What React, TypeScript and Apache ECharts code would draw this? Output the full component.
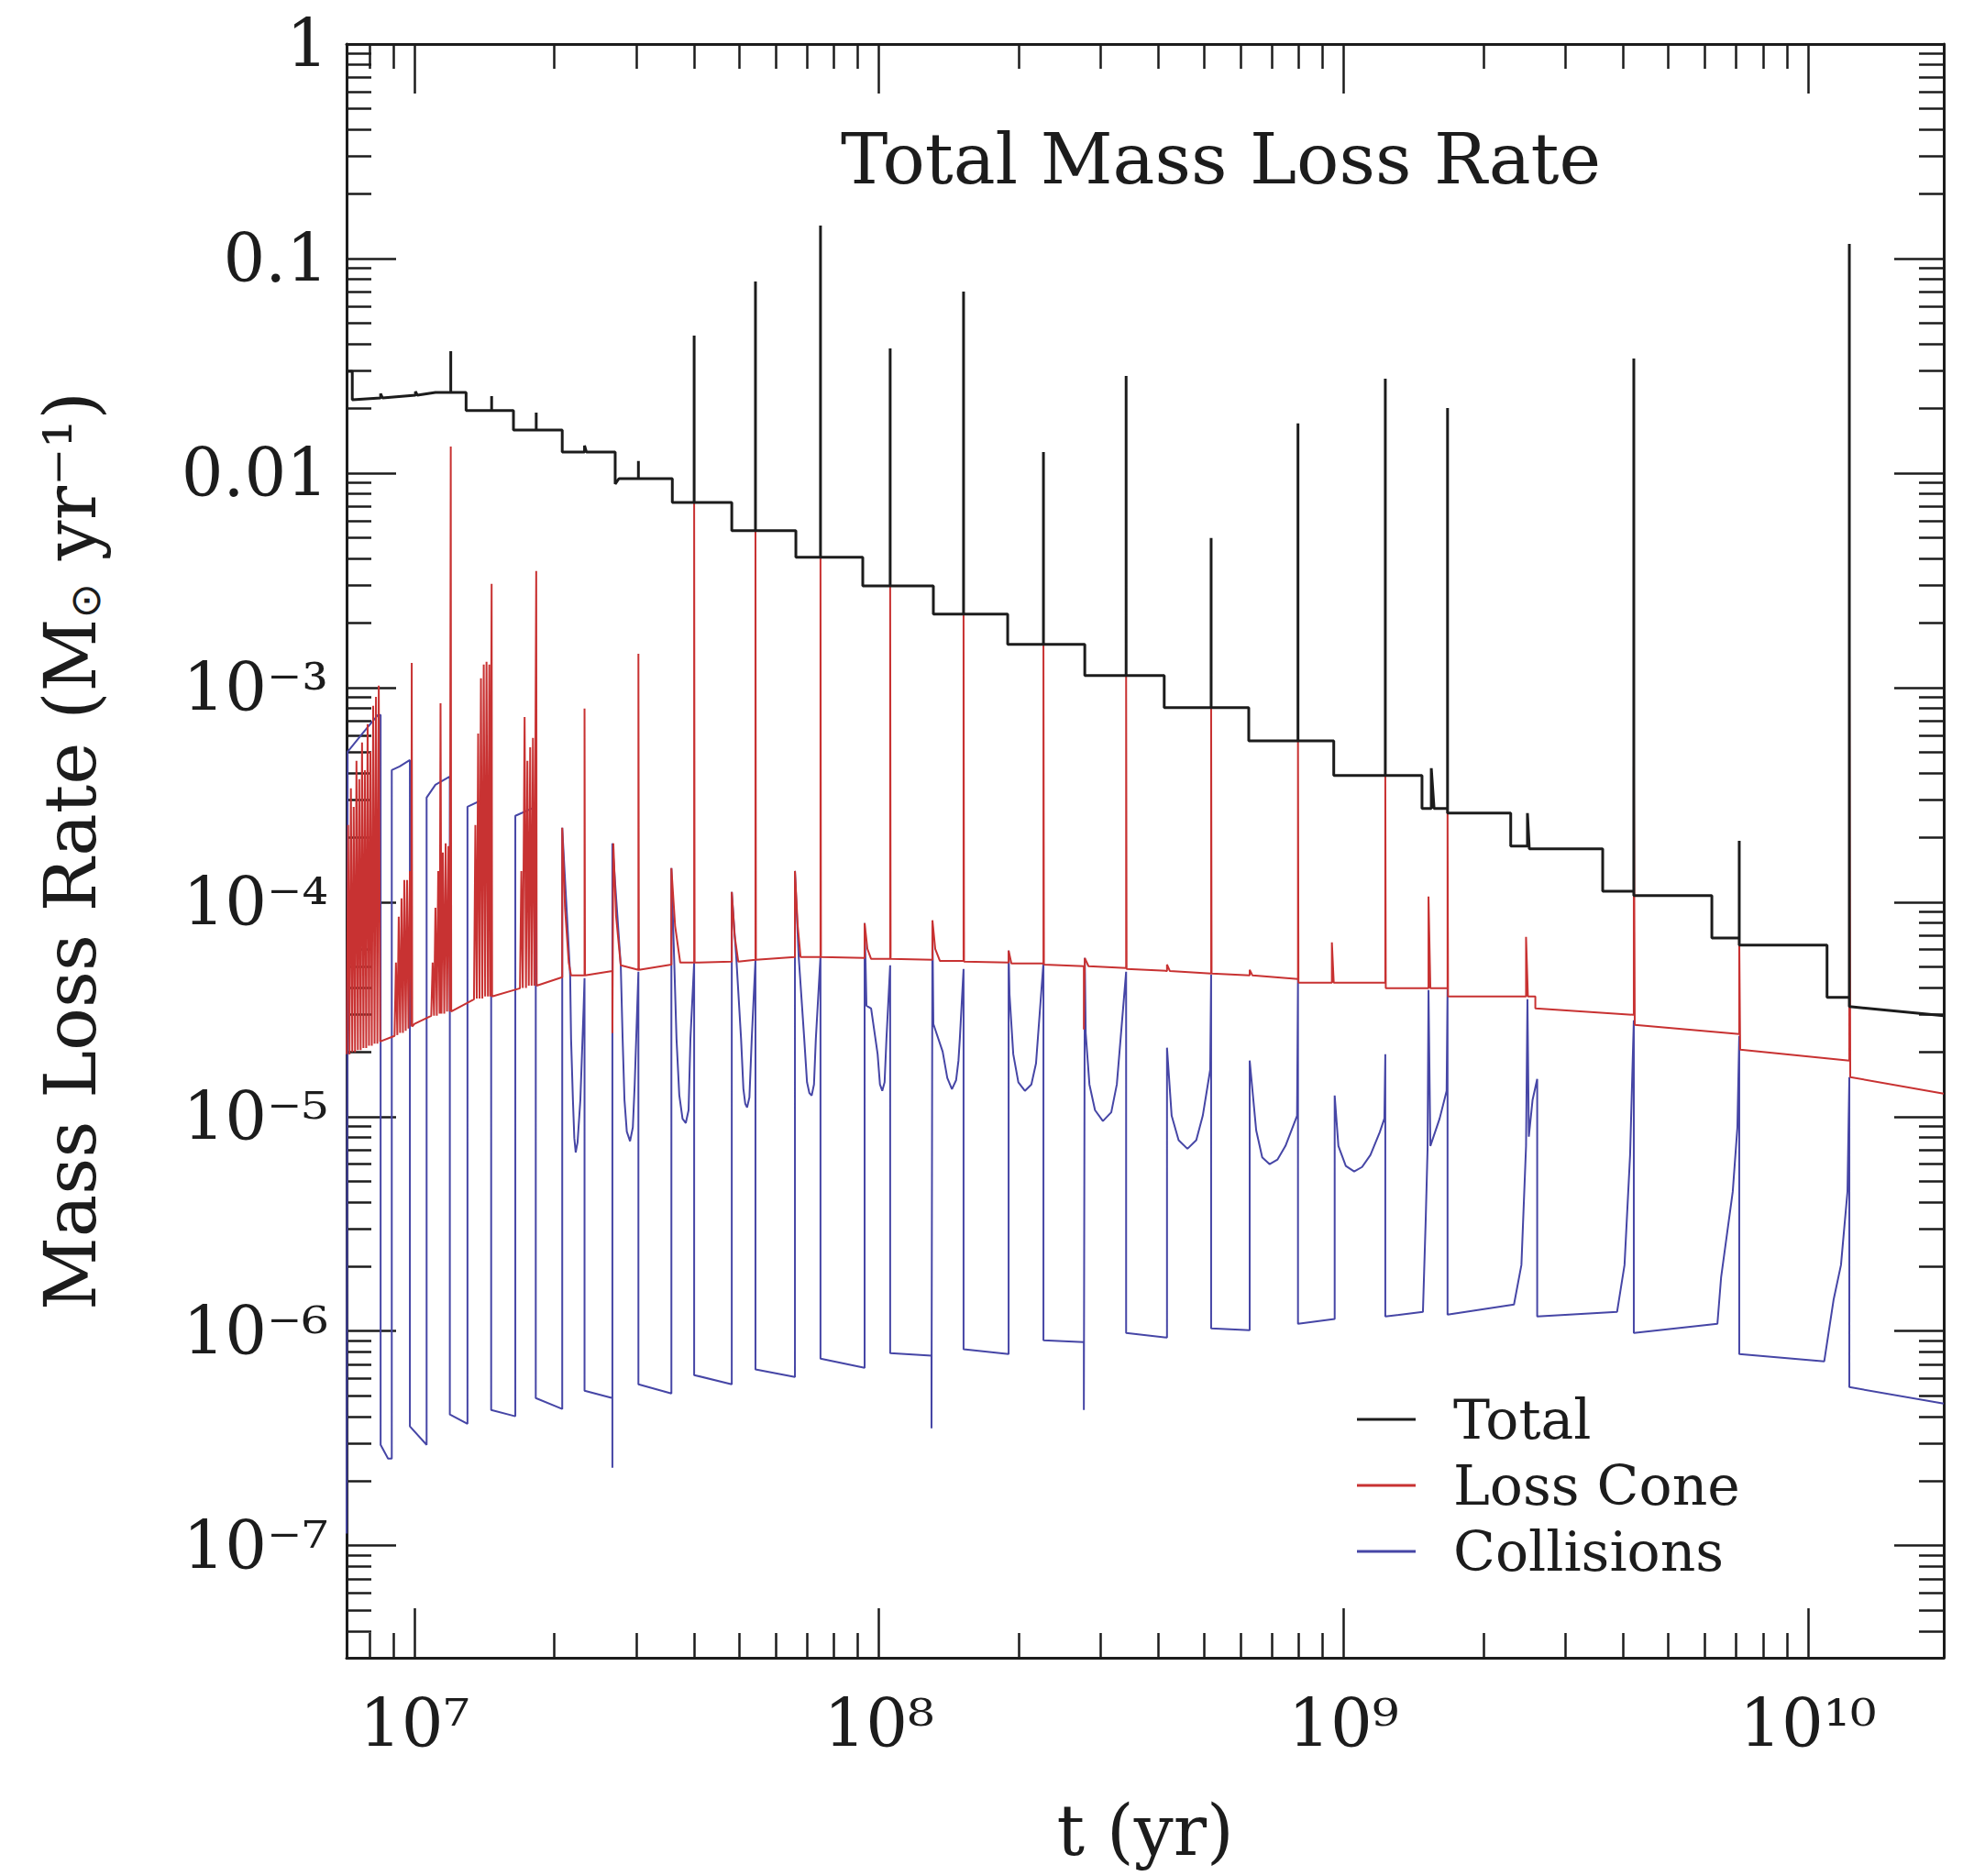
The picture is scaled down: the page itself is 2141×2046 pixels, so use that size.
import React, { useEffect, useRef } from 'react';
import * as echarts from 'echarts';

// All readings are in log10 units: [log10(t / yr), log10(rate / (Msun/yr))]
const totalLog: number[][] = [
  [6.854,-1.526],[6.866,-1.526],[6.866,-1.658],[6.927,-1.650],[6.927,-1.630],[6.931,-1.650],[7.002,-1.637],[7.002,-1.620],[7.006,-1.637],
  [7.045,-1.624],[7.078,-1.624],[7.078,-1.432],[7.078,-1.624],[7.111,-1.624],[7.111,-1.709],[7.166,-1.709],[7.166,-1.641],[7.166,-1.709],
  [7.213,-1.709],[7.213,-1.799],[7.262,-1.799],[7.262,-1.718],[7.262,-1.799],[7.318,-1.799],[7.318,-1.902],[7.366,-1.902],[7.366,-1.872],
  [7.370,-1.902],[7.432,-1.902],[7.432,-2.051],[7.440,-2.026],[7.482,-2.026],[7.482,-1.944],[7.482,-2.026],[7.555,-2.026],[7.555,-2.137],
  [7.602,-2.137],[7.602,-1.359],[7.602,-2.137],[7.683,-2.137],[7.683,-2.269],[7.734,-2.269],[7.734,-1.107],[7.734,-2.269],[7.821,-2.269],
  [7.821,-2.393],[7.874,-2.393],[7.874,-0.846],[7.874,-2.393],[7.965,-2.393],[7.965,-2.526],[8.024,-2.526],[8.024,-1.419],[8.024,-2.526],
  [8.117,-2.526],[8.117,-2.658],[8.182,-2.658],[8.182,-1.154],[8.182,-2.658],[8.277,-2.658],[8.277,-2.799],[8.354,-2.799],[8.354,-1.902],
  [8.354,-2.799],[8.443,-2.799],[8.443,-2.944],[8.532,-2.944],[8.532,-1.547],[8.532,-2.944],[8.614,-2.944],[8.614,-3.094],[8.715,-3.094],
  [8.715,-2.303],[8.715,-3.094],[8.796,-3.094],[8.796,-3.248],[8.902,-3.248],[8.902,-1.769],[8.902,-3.248],[8.979,-3.248],[8.979,-3.410],
  [9.090,-3.410],[9.090,-1.560],[9.090,-3.410],[9.169,-3.410],[9.169,-3.564],[9.189,-3.564],[9.189,-3.376],[9.195,-3.564],[9.224,-3.564],
  [9.224,-1.697],[9.224,-3.585],[9.360,-3.585],[9.360,-3.739],[9.396,-3.739],[9.396,-3.585],[9.400,-3.752],[9.558,-3.752],[9.558,-3.949],
  [9.625,-3.949],[9.625,-1.466],[9.625,-3.970],[9.793,-3.970],[9.793,-4.167],[9.852,-4.167],[9.852,-3.714],[9.852,-4.201],[10.041,-4.201],
  [10.041,-4.444],[10.089,-4.444],[10.089,-0.932],[10.089,-4.487],[10.292,-4.530],
];

const lossConeLog: number[][] = [
  [6.854,-4.709],
  [6.857,-3.641],[6.860,-4.71],[6.863,-3.470],[6.866,-4.70],[6.869,-3.556],[6.872,-4.70],[6.875,-3.342],[6.878,-4.69],
  [6.881,-3.427],[6.884,-4.69],[6.887,-3.256],[6.890,-4.68],[6.893,-3.385],[6.896,-4.68],[6.899,-3.171],[6.902,-4.67],
  [6.905,-3.299],[6.908,-4.67],[6.911,-3.085],[6.914,-4.66],[6.917,-3.043],[6.920,-4.66],[6.923,-2.991],[6.926,-4.65],
  [6.957,-4.624],
  [6.960,-4.282],[6.963,-4.62],[6.966,-4.068],[6.969,-4.61],[6.972,-3.983],[6.975,-4.61],[6.978,-3.897],[6.981,-4.60],
  [6.984,-3.897],[6.987,-4.59],[6.990,-3.855],[6.993,-4.58],[6.994,-2.885],[6.995,-4.58],
  [7.000,-4.568],[7.036,-4.53],
  [7.039,-4.282],[7.042,-4.53],[7.045,-4.026],[7.048,-4.53],[7.051,-3.855],[7.054,-4.52],[7.056,-3.073],[7.058,-4.52],
  [7.061,-3.769],[7.064,-4.52],[7.067,-3.726],[7.070,-4.51],[7.073,-3.739],[7.076,-4.51],[7.078,-1.876],[7.079,-4.51],
  [7.128,-4.453],
  [7.131,-3.641],[7.134,-4.45],[7.137,-3.214],[7.140,-4.45],[7.143,-2.957],[7.146,-4.45],[7.149,-2.893],[7.152,-4.44],
  [7.155,-2.880],[7.158,-4.44],[7.161,-2.893],[7.163,-4.44],[7.166,-2.517],[7.167,-4.44],
  [7.227,-4.402],
  [7.230,-3.855],[7.233,-4.40],[7.237,-3.137],[7.240,-4.40],[7.243,-3.342],[7.246,-4.39],[7.249,-3.278],[7.252,-4.39],
  [7.255,-3.235],[7.258,-4.39],[7.262,-2.457],[7.263,-4.39],
  [7.318,-4.350],[7.318,-3.654],[7.324,-4.026],[7.332,-4.282],[7.337,-4.342],
  [7.366,-4.342],[7.366,-3.098],[7.367,-4.342],
  [7.426,-4.321],[7.426,-4.611],[7.428,-3.726],[7.434,-4.068],[7.444,-4.295],
  [7.482,-4.316],[7.482,-2.842],[7.483,-4.316],
  [7.553,-4.291],[7.553,-3.842],[7.561,-4.111],[7.572,-4.282],
  [7.602,-4.282],[7.602,-2.137],[7.603,-4.282],
  [7.683,-4.278],[7.683,-3.953],[7.689,-4.154],[7.697,-4.278],
  [7.734,-4.269],[7.734,-2.269],[7.735,-4.269],
  [7.819,-4.256],[7.819,-3.855],[7.825,-4.111],[7.831,-4.256],
  [7.874,-4.256],[7.874,-2.393],[7.875,-4.256],
  [7.969,-4.261],[7.969,-4.098],[7.975,-4.218],[7.983,-4.265],
  [8.024,-4.265],[8.024,-2.526],[8.025,-4.265],
  [8.115,-4.269],[8.115,-4.085],[8.121,-4.218],[8.131,-4.274],
  [8.182,-4.274],[8.182,-2.658],[8.183,-4.278],
  [8.279,-4.282],[8.279,-4.226],[8.285,-4.286],
  [8.354,-4.286],[8.354,-2.799],[8.355,-4.291],
  [8.441,-4.299],[8.441,-4.594],[8.443,-4.261],[8.451,-4.299],
  [8.532,-4.308],[8.532,-2.944],[8.533,-4.312],
  [8.620,-4.321],[8.620,-4.291],[8.626,-4.321],
  [8.715,-4.333],[8.715,-3.094],[8.716,-4.333],
  [8.798,-4.342],[8.798,-4.316],[8.804,-4.342],
  [8.902,-4.359],[8.902,-3.248],[8.903,-4.376],
  [8.975,-4.376],[8.975,-4.188],[8.979,-4.376],
  [9.090,-4.376],[9.090,-3.410],[9.091,-4.402],
  [9.183,-4.402],[9.183,-3.974],[9.187,-4.402],
  [9.224,-4.402],[9.224,-3.564],[9.225,-4.440],
  [9.393,-4.440],[9.393,-4.162],[9.397,-4.440],[9.413,-4.440],[9.413,-4.496],
  [9.625,-4.526],[9.625,-3.368],[9.627,-4.573],
  [9.852,-4.615],[9.852,-4.167],[9.854,-4.688],
  [10.089,-4.739],[10.089,-2.855],[10.091,-4.816],[10.292,-4.893],
];

const collisionsLog: number[][] = [
  [6.854,-6.944],[6.856,-3.299],[6.888,-3.214],[6.921,-3.128],[6.927,-3.128],[6.927,-6.530],[6.943,-6.594],[6.951,-6.594],
  [6.951,-3.385],[6.968,-3.368],[6.990,-3.338],[6.990,-6.444],[7.026,-6.530],
  [7.026,-3.513],[7.045,-3.453],[7.076,-3.415],[7.076,-6.389],[7.114,-6.432],
  [7.114,-3.556],[7.165,-3.504],[7.165,-6.368],[7.217,-6.397],
  [7.217,-3.598],[7.261,-3.556],[7.261,-6.312],[7.318,-6.363],
  [7.318,-3.654],[7.335,-4.338],[7.337,-4.637],[7.341,-4.923],[7.344,-5.100],[7.347,-5.167],[7.351,-5.120],[7.357,-4.923],[7.364,-4.496],[7.366,-4.355],[7.366,-6.278],
  [7.426,-6.312],[7.426,-6.637],
  [7.426,-3.726],[7.444,-4.295],[7.448,-4.637],[7.452,-4.923],[7.457,-5.070],[7.464,-5.115],[7.470,-5.050],[7.474,-4.850],[7.482,-4.325],[7.482,-6.248],
  [7.553,-6.291],
  [7.553,-3.842],[7.559,-4.269],[7.564,-4.637],[7.570,-4.900],[7.577,-5.010],[7.584,-5.030],[7.590,-4.970],[7.594,-4.637],[7.602,-4.282],[7.602,-6.205],
  [7.683,-6.248],
  [7.683,-3.953],[7.693,-4.269],[7.703,-4.637],[7.708,-4.870],[7.712,-4.940],[7.716,-4.957],[7.721,-4.910],[7.726,-4.637],[7.734,-4.269],[7.734,-6.179],
  [7.819,-6.214],
  [7.819,-3.855],[7.827,-4.252],[7.839,-4.637],[7.845,-4.840],[7.850,-4.890],[7.855,-4.902],[7.860,-4.850],[7.864,-4.637],[7.874,-4.252],[7.874,-6.128],
  [7.969,-6.171],
  [7.969,-4.098],[7.971,-4.282],[7.973,-4.483],[7.983,-4.496],[7.997,-4.709],[8.002,-4.850],[8.007,-4.880],[8.012,-4.840],[8.016,-4.637],[8.024,-4.295],[8.024,-6.103],
  [8.113,-6.115],[8.113,-6.453],
  [8.115,-4.098],[8.117,-4.568],[8.137,-4.697],[8.147,-4.820],[8.157,-4.872],[8.166,-4.830],[8.171,-4.740],[8.174,-4.637],[8.182,-4.312],[8.182,-6.085],
  [8.279,-6.107],
  [8.279,-4.226],[8.281,-4.432],[8.289,-4.709],[8.300,-4.840],[8.314,-4.880],[8.328,-4.850],[8.338,-4.752],[8.354,-4.282],[8.354,-6.043],
  [8.441,-6.051],[8.441,-6.368],
  [8.443,-4.261],[8.445,-4.611],[8.453,-4.850],[8.465,-4.970],[8.482,-5.021],[8.500,-4.980],[8.512,-4.850],[8.532,-4.325],[8.532,-6.009],
  [8.620,-6.030],
  [8.620,-4.679],[8.630,-4.996],[8.645,-5.110],[8.664,-5.150],[8.683,-5.110],[8.697,-4.996],[8.713,-4.782],[8.715,-4.338],[8.715,-5.987],
  [8.798,-5.996],
  [8.798,-4.739],[8.812,-5.064],[8.825,-5.190],[8.841,-5.222],[8.858,-5.200],[8.875,-5.137],[8.900,-4.996],[8.902,-4.359],[8.902,-5.966],
  [8.981,-5.944],
  [8.981,-4.902],[8.989,-5.137],[9.005,-5.230],[9.023,-5.256],[9.040,-5.235],[9.058,-5.179],[9.078,-5.073],[9.088,-5.009],[9.090,-4.709],[9.090,-5.932],
  [9.171,-5.910],
  [9.177,-5.479],[9.181,-5.150],[9.183,-4.410],[9.187,-5.137],[9.207,-5.009],[9.222,-4.880],[9.224,-4.402],[9.224,-5.923],
  [9.367,-5.876],[9.383,-5.692],[9.393,-5.137],[9.396,-4.453],[9.399,-5.094],[9.407,-4.923],[9.417,-4.825],[9.417,-5.932],
  [9.589,-5.910],[9.605,-5.692],[9.617,-5.179],[9.625,-4.551],[9.625,-6.009],
  [9.805,-5.966],[9.813,-5.748],[9.838,-5.350],[9.848,-5.051],[9.852,-4.624],[9.852,-6.107],
  [10.035,-6.141],[10.055,-5.855],[10.071,-5.692],[10.085,-5.350],[10.089,-4.816],[10.089,-6.261],
  [10.292,-6.338],
];

const seriesNames = ['Total', 'Loss Cone', 'Collisions'];
const xTickExps = [7, 8, 9, 10];
const xTickLabels = ['10\u2077', '10\u2078', '10\u2079', '10\u00b9\u2070'];
const yTickExps = [0, -1, -2, -3, -4, -5, -6, -7];
const yTickLabels = ['1', '0.1', '0.01', '10\u207b\u00b3', '10\u207b\u2074', '10\u207b\u2075', '10\u207b\u2076', '10\u207b\u2077'];
const xRange = [7.14e6, 1.96e10];
const yRange = [3e-8, 1];

const FONT = 'DejaVu Serif';
const INK = '#1c1c1c';
const RED = '#c83232';
const BLUE = '#4646a6';

const toData = (pts: number[][]) => pts.map(([lt, lv]) => [Math.pow(10, lt), Math.pow(10, lv)]);

function labelFor(v: number, exps: number[], labels: string[]) {
  const l = Math.log10(v);
  const e = Math.round(l);
  if (Math.abs(l - e) > 1e-3) return '';
  const i = exps.indexOf(e);
  return i >= 0 ? labels[i] : '';
}

export default function App() {
  const ref = useRef<HTMLDivElement>(null);
  useEffect(() => {
    if (!ref.current) return;
    const chart = echarts.init(ref.current, undefined, { renderer: 'svg' });
    const axisBase: any = {
      type: 'log',
      logBase: 10,
      axisLine: { show: true, onZero: false, lineStyle: { color: INK, width: 3 } },
      axisTick: { show: true, inside: true, length: 54, lineStyle: { color: INK, width: 2.5 } },
      minorTick: { show: true, splitNumber: 9, length: 27, lineStyle: { color: INK, width: 2.5 } },
      splitLine: { show: false },
      minorSplitLine: { show: false },
    };
    const option: any = {
      animation: false,
      backgroundColor: '#ffffff',
      textStyle: { fontFamily: FONT, color: INK },
      title: {
        text: 'Total Mass Loss Rate',
        left: 912,
        top: 130,
        textStyle: { fontFamily: FONT, fontSize: 77, fontWeight: 'normal', color: INK },
      },
      legend: {
        orient: 'vertical',
        left: 1475,
        top: 1507,
        itemWidth: 64,
        itemHeight: 3,
        itemGap: 0,
        icon: 'rect',
        selectedMode: false,
        data: seriesNames,
        textStyle: { fontFamily: FONT, fontSize: 60, color: INK, lineHeight: 72, padding: [0, 0, 0, 36] },
      },
      grid: { left: 378, right: 21, top: 48, bottom: 238, containLabel: false, outerBoundsMode: 'none' },
      xAxis: [
        {
          ...axisBase,
          position: 'bottom',
          min: xRange[0],
          max: xRange[1],
          axisLabel: {
            show: true,
            margin: 36,
            showMinLabel: true,
            showMaxLabel: true,
            fontFamily: FONT,
            fontSize: 72,
            color: INK,
            formatter: (v: number) => labelFor(v, xTickExps, xTickLabels),
          },
          name: 't (yr)',
          nameLocation: 'middle',
          nameGap: 150,
          nameTextStyle: { fontFamily: FONT, fontSize: 76, color: INK },
        },
        {
          ...axisBase,
          position: 'top',
          min: xRange[0],
          max: xRange[1],
          axisLabel: { show: false },
        },
      ],
      yAxis: [
        {
          ...axisBase,
          position: 'left',
          min: yRange[0],
          max: yRange[1],
          axisLabel: {
            show: true,
            margin: 20,
            showMinLabel: true,
            showMaxLabel: true,
            fontFamily: FONT,
            fontSize: 72,
            color: INK,
            formatter: (v: number) => labelFor(v, yTickExps, yTickLabels),
          },
          name: 'Mass Loss Rate (M{sub|\u2299} yr\u207b\u00b9)',
          nameLocation: 'middle',
          nameGap: 262,
          nameRotate: 90,
          nameTextStyle: {
            fontFamily: FONT,
            fontSize: 78,
            color: INK,
            rich: { sub: { fontFamily: 'DejaVu Sans', fontSize: 46, verticalAlign: 'bottom', lineHeight: 46, color: INK } },
          },
        },
        {
          ...axisBase,
          position: 'right',
          min: yRange[0],
          max: yRange[1],
          axisLabel: { show: false },
        },
      ],
      series: [
        {
          name: seriesNames[0], type: 'line', data: toData(totalLog), showSymbol: false, symbol: 'none',
          color: INK, lineStyle: { color: INK, width: 3 }, z: 5, clip: true,
        },
        {
          name: seriesNames[1], type: 'line', data: toData(lossConeLog), showSymbol: false, symbol: 'none',
          color: RED, lineStyle: { color: RED, width: 2 }, z: 4, clip: true,
        },
        {
          name: seriesNames[2], type: 'line', data: toData(collisionsLog), showSymbol: false, symbol: 'none',
          color: BLUE, lineStyle: { color: BLUE, width: 2 }, z: 3, clip: true,
        },
      ],
    };
    chart.setOption(option);
    return () => chart.dispose();
  }, []);
  return (
    <div
      ref={ref}
      style={{ position: 'fixed', left: 0, top: 0, width: 2141, height: 2046, background: '#ffffff' }}
    />
  );
}
